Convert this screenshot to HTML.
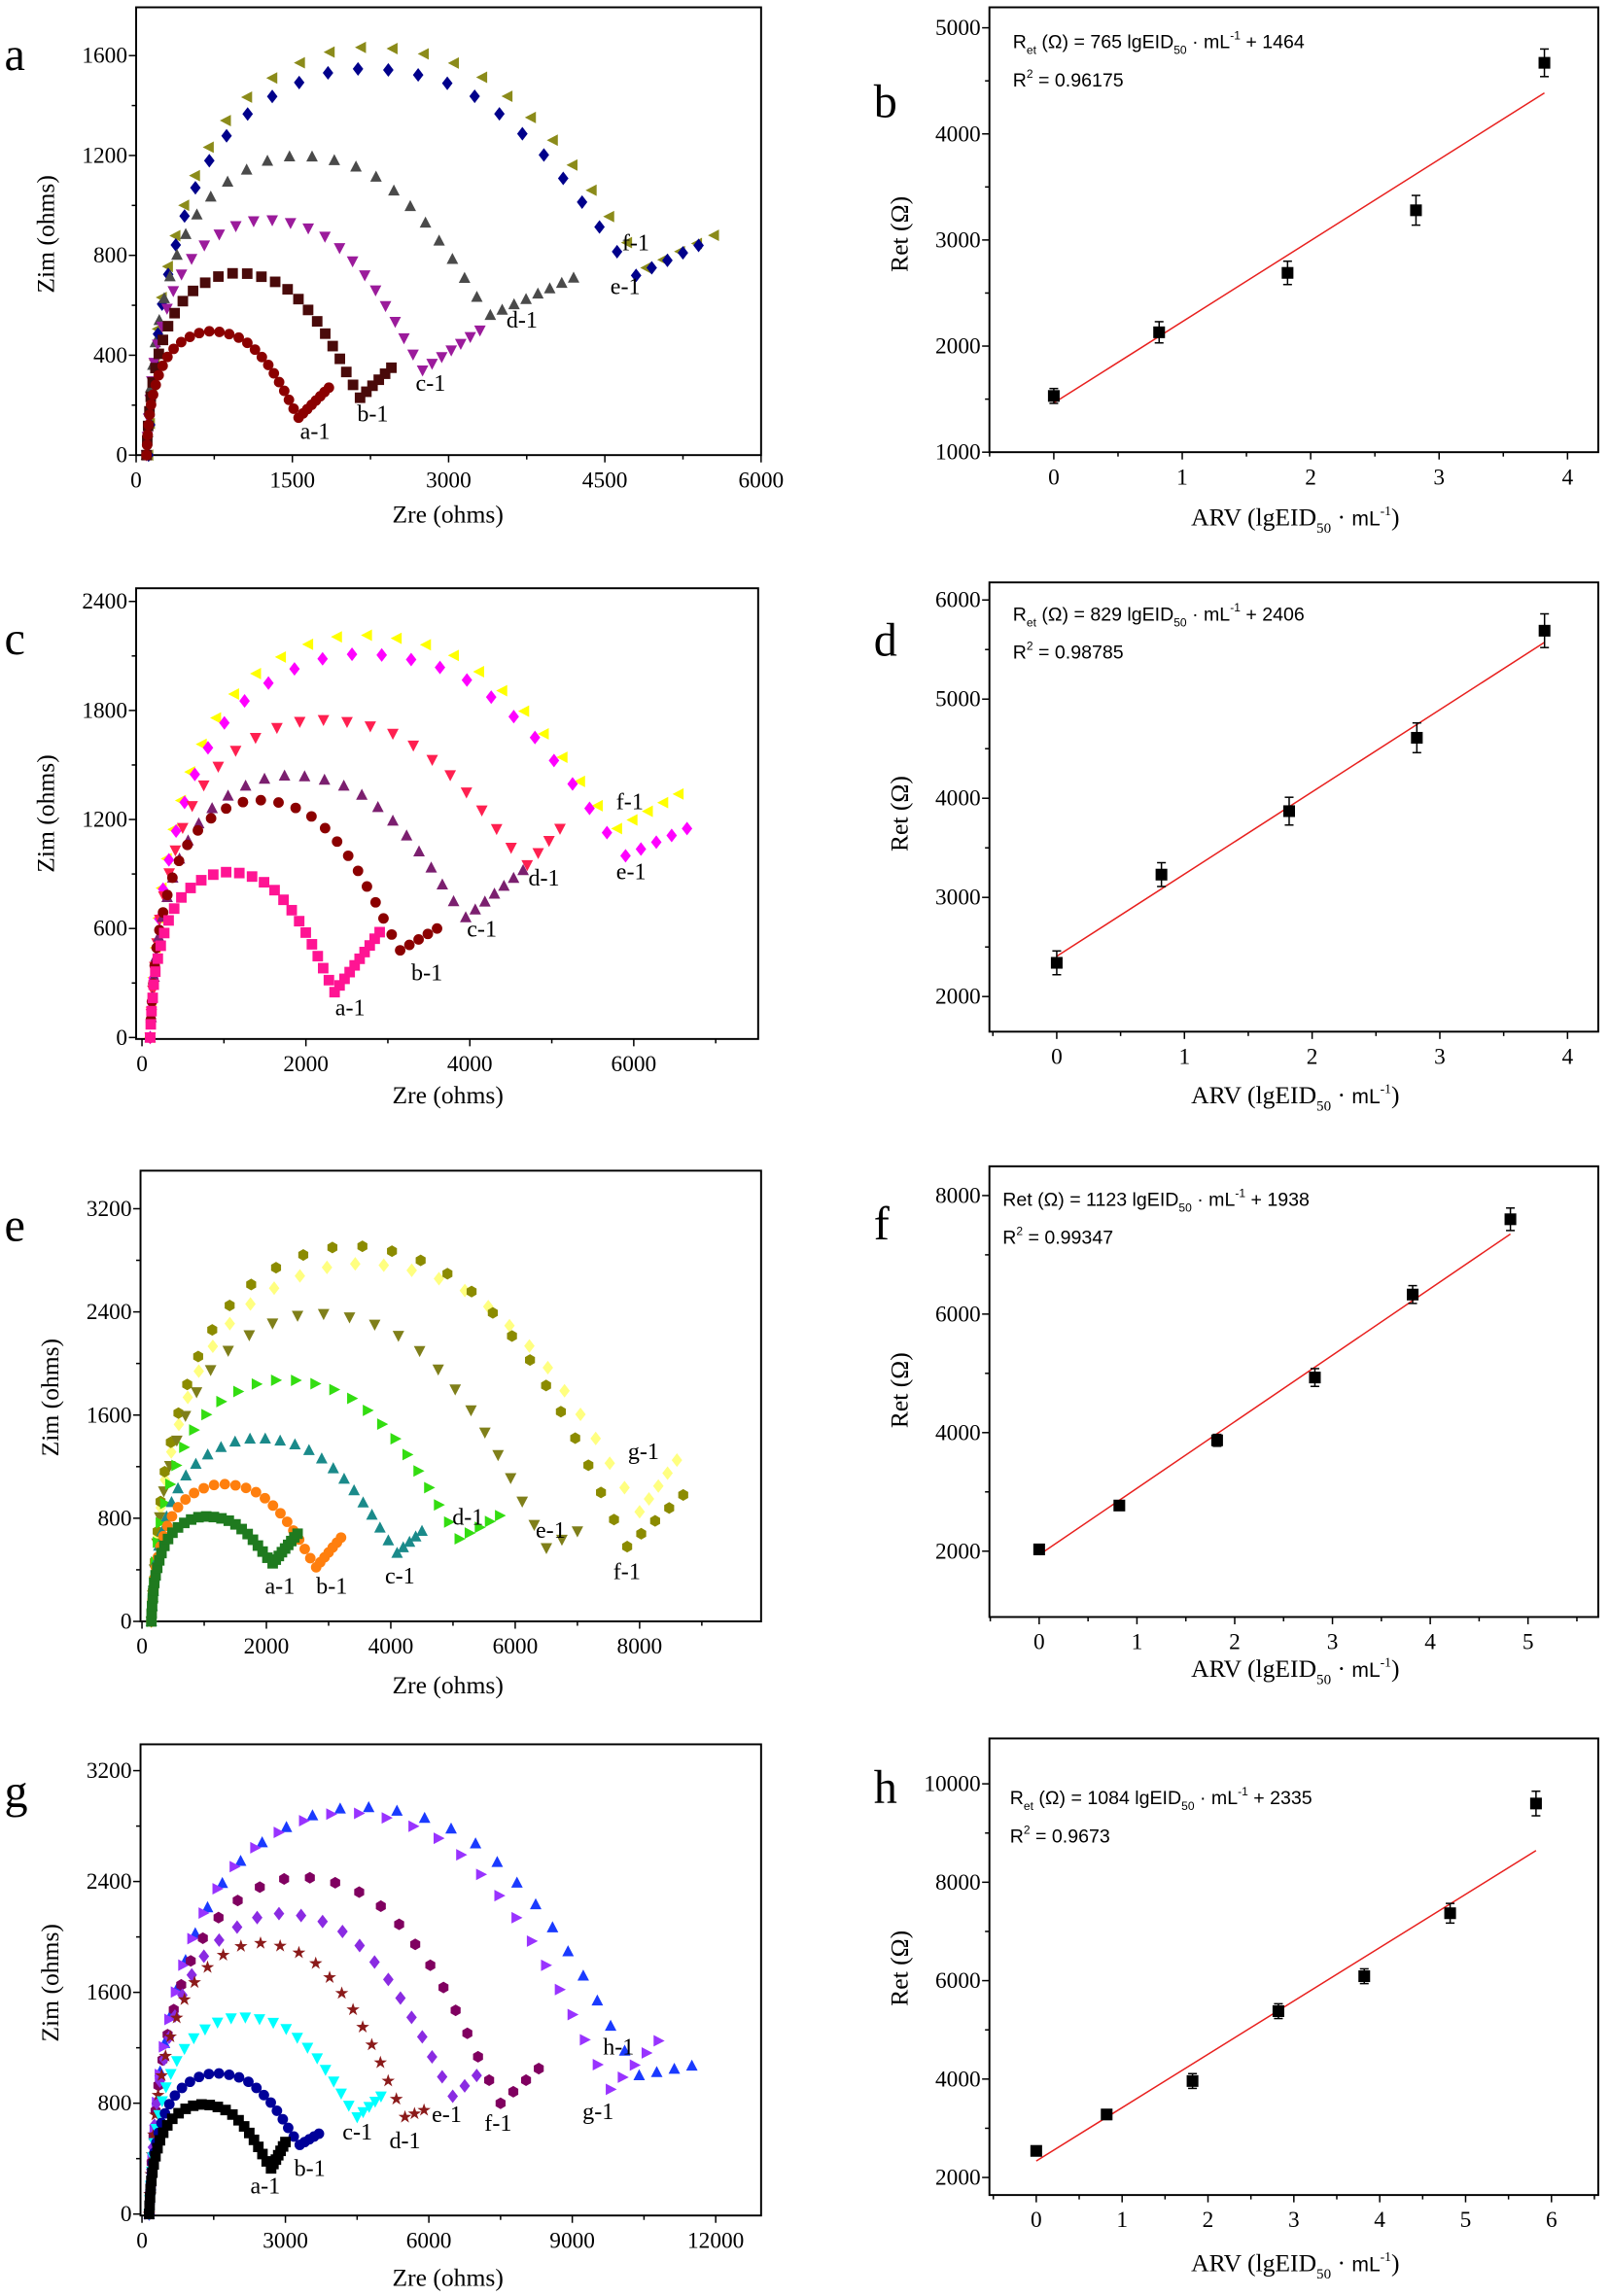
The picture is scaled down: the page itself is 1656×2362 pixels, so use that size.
<!DOCTYPE html>
<html><head><meta charset="utf-8"><style>
html,body{margin:0;padding:0;background:#fff;}
svg{display:block;}
.t{font-family:"Liberation Serif",serif;fill:#000;}
.s{font-family:"Liberation Sans",sans-serif;fill:#000;}
</style></head><body>
<svg id="c" width="1656" height="2362" viewBox="0 0 1100 1569" xmlns="http://www.w3.org/2000/svg"></svg>
<script>
const svg=document.getElementById('c');let out='';
function P(def){return{X:v=>def.x0+v*def.sx-(def.xv0||0)*def.sx,Y:v=>def.y0-(v-(def.yv0||0))*def.sy};}
function marker(m,x,y,c){const r=3.6;x=+x;y=+y;switch(m){
case'o':return`<circle cx="${x}" cy="${y}" r="${r}" fill="${c}"/>`;
case's':return`<rect x="${x-r}" y="${y-r}" width="${2*r}" height="${2*r}" fill="${c}"/>`;
case'^':return`<polygon points="${x},${y-r*1.2} ${x-r*1.1},${y+r*0.9} ${x+r*1.1},${y+r*0.9}" fill="${c}"/>`;
case'v':return`<polygon points="${x},${y+r*1.2} ${x-r*1.1},${y-r*0.9} ${x+r*1.1},${y-r*0.9}" fill="${c}"/>`;
case'<':return`<polygon points="${x-r*1.2},${y} ${x+r*0.9},${y-r*1.1} ${x+r*0.9},${y+r*1.1}" fill="${c}"/>`;
case'>':return`<polygon points="${x+r*1.2},${y} ${x-r*0.9},${y-r*1.1} ${x-r*0.9},${y+r*1.1}" fill="${c}"/>`;
case'd':return`<polygon points="${x},${y-r*1.3} ${x+r},${y} ${x},${y+r*1.3} ${x-r},${y}" fill="${c}"/>`;
case'h':{let p=[];for(let i=0;i<6;i++){const a=Math.PI/6+i*Math.PI/3;p.push((x+r*1.1*Math.cos(a)).toFixed(1)+','+(y+r*1.1*Math.sin(a)).toFixed(1));}return`<polygon points="${p.join(' ')}" fill="${c}"/>`;}
case'*':{let p=[];for(let i=0;i<10;i++){const a=-Math.PI/2+i*Math.PI/5,rr=i%2?r*0.5:r*1.3;p.push((x+rr*Math.cos(a)).toFixed(1)+','+(y+rr*Math.sin(a)).toFixed(1));}return`<polygon points="${p.join(' ')}" fill="${c}"/>`;}
}}
function axes(def){const [l,t,r,b]=def.box;const p=P(def);
out+=`<rect x="${l}" y="${t}" width="${r-l}" height="${b-t}" fill="none" stroke="#000" stroke-width="1.3"/>`;
for(let v=def.xmin;v<=def.xmax+1e-9;v+=def.xminor){const x=p.X(v);if(x<l-0.5||x>r+0.5)continue;const maj=Math.abs(v/def.xstep-Math.round(v/def.xstep))<1e-6;
out+=`<line x1="${x}" y1="${b}" x2="${x}" y2="${b+(maj?5:3)}" stroke="#000" stroke-width="1"/>`;
if(maj)out+=`<text class="t" x="${x}" y="${b+22}" font-size="15.5" text-anchor="middle">${+v.toFixed(3)}</text>`;}
for(let v=def.ymin;v<=def.ymax+1e-9;v+=def.yminor){const y=p.Y(v);if(y<t-0.5||y>b+0.5)continue;const maj=Math.abs(v/def.ystep-Math.round(v/def.ystep))<1e-6;
out+=`<line x1="${l}" y1="${y}" x2="${l-(maj?5:3)}" y2="${y}" stroke="#000" stroke-width="1"/>`;
if(maj)out+=`<text class="t" x="${l-6}" y="${y+5}" font-size="15.5" text-anchor="end">${v}</text>`;}
}
const G=[[0,0],[0.01,0.2],[0.035,0.45],[0.1,0.72],[0.2,0.9],[0.35,1],[0.5,0.99],[0.65,0.88],[0.78,0.66],[0.88,0.4],[0.95,0.17],[1,0]];
function cr(pts,n){const res=[];for(let i=0;i<pts.length-1;i++){const p0=pts[Math.max(i-1,0)],p1=pts[i],p2=pts[i+1],p3=pts[Math.min(i+2,pts.length-1)];
for(let k=0;k<n;k++){const t=k/n,t2=t*t,t3=t2*t;const f=(a,b,c,d)=>0.5*((2*b)+(-a+c)*t+(2*a-5*b+4*c-d)*t2+(-a+3*b-3*c+d)*t3);res.push([f(p0[0],p1[0],p2[0],p3[0]),f(p0[1],p1[1],p2[1],p3[1])]);}}
res.push(pts[pts.length-1]);return res;}
const GD=cr(G,30);
function nyq(def,series){const p=P(def);
for(const s of series){const [Rs,xm,ym,apex,xe,ye,c,m]=s;const N=s[8]||28;
const arc=GD.map(([u,g])=>[p.X(Rs+u*(xm-Rs)),p.Y(g*(apex-ym*0.02)+ym*Math.pow(u,4))]);
let L=[0];for(let i=1;i<arc.length;i++)L.push(L[i-1]+Math.hypot(arc[i][0]-arc[i-1][0],arc[i][1]-arc[i-1][1]));
const tot=L[L.length-1],step=tot/N;let j=0;
for(let i=0;i<=N;i++){const d=i*step;while(j<L.length-2&&L[j+1]<d)j++;const f=(d-L[j])/((L[j+1]-L[j])||1);const x=arc[j][0]+f*(arc[j+1][0]-arc[j][0]),y=arc[j][1]+f*(arc[j+1][1]-arc[j][1]);out+=marker(m,x.toFixed(1),y.toFixed(1),c);}
const x1=p.X(xm),y1=p.Y(ym),x2=p.X(xe),y2=p.Y(ye);const tl=Math.hypot(x2-x1,y2-y1);const M=Math.max(2,Math.round(tl/(step*0.6)));
for(let i=1;i<=M;i++){const f=i/M;out+=marker(m,(x1+(x2-x1)*f).toFixed(1),(y1+(y2-y1)*f).toFixed(1),c);}}}
function lin(def,pts,k,b0,err){const p=P(def);const x1=pts[0][0],x2=pts[pts.length-1][0];
out+=`<line x1="${p.X(x1)}" y1="${p.Y(k*x1+b0)}" x2="${p.X(x2)}" y2="${p.Y(k*x2+b0)}" stroke="#e8201e" stroke-width="1"/>`;
pts.forEach((q,i)=>{const x=p.X(q[0]),y=p.Y(q[1]),e=(q[2]||err)*def.sy;
out+=`<line x1="${x}" y1="${y-e}" x2="${x}" y2="${y+e}" stroke="#000" stroke-width="1"/><line x1="${x-3}" y1="${y-e}" x2="${x+3}" y2="${y-e}" stroke="#000"/><line x1="${x-3}" y1="${y+e}" x2="${x+3}" y2="${y+e}" stroke="#000"/><rect x="${x-4}" y="${y-4}" width="8" height="8" fill="#000"/>`;});}
function txt(x,y,s,sz,cls,extra){out+=`<text class="${cls||'t'}" x="${x}" y="${y}" font-size="${sz}" ${extra||''}>${s}</text>`;}
function ylab(x,y,s){out+=`<text class="t" x="${x}" y="${y}" font-size="17" text-anchor="middle" transform="rotate(-90 ${x} ${y})">${s}</text>`;}
const arv=`ARV (lgEID<tspan font-size="10" dy="5">50</tspan><tspan dy="-5"> · </tspan><tspan class="s" font-size="14">mL</tspan><tspan font-size="9" dy="-7">-1</tspan><tspan dy="7">)</tspan>`;
function eq(x,y,k,b,r2,sub){txt(x,y,(sub?`R<tspan font-size="8" dy="4">et</tspan><tspan dy="-4">`:'Ret<tspan>')+` (Ω) = ${k} lgEID</tspan><tspan font-size="8" dy="4">50</tspan><tspan dy="-4"> · mL</tspan><tspan font-size="8" dy="-6">-1</tspan><tspan dy="6"> + ${b}</tspan>`,13,'s');
txt(x,y+26,`R<tspan font-size="8" dy="-6">2</tspan><tspan dy="6"> = ${r2}</tspan>`,13,'s');}

const A={box:[93,5,520,311],x0:93,sx:427/6000,y0:311,sy:273/1600,xmin:0,xmax:6000,xstep:1500,xminor:750,ymin:0,ymax:1800,ystep:400,yminor:200};
axes(A);
nyq(A,[[120,4900,750,1610,5550,880,'#8b8b1a','<'],[120,4800,720,1525,5400,840,'#00008b','d'],[100,3400,560,1180,4200,710,'#4a4a4a','^'],[100,2750,340,930,3300,500,'#9b1b9b','v'],[100,2150,230,720,2450,350,'#4a0a0a','s'],[100,1560,150,490,1850,270,'#8b0000','o']]);
[['a-1',205,300],['b-1',244,288],['c-1',284,267],['d-1',346,224],['e-1',417,201],['f-1',425,171]].forEach(l=>txt(l[1],l[2],l[0],16));
txt(3,48,'a',32);txt(306,357,'Zre (ohms)',17,'t','text-anchor="middle"');ylab(37,160,'Zim (ohms)');

const B={box:[676,5,1092,309],x0:720,sx:87.75,y0:309,yv0:1000,sy:0.0725,xmin:-0.5,xmax:4.5,xstep:1,xminor:0.5,ymin:1000,ymax:5200,ystep:1000,yminor:500};
axes(B);lin(B,[[0,1530,70],[0.82,2130,100],[1.82,2690,110],[2.82,3280,140],[3.82,4670,130]],765,1464);
eq(692,33,765,1464,'0.96175',true);txt(597,80,'b',32);txt(885,359,arv,17,'t','text-anchor="middle"');ylab(620,160,'Ret (Ω)');

const C={box:[93,402,518,710],x0:97,sx:0.056,y0:709,sy:298/2400,xmin:0,xmax:7000,xstep:2000,xminor:1000,ymin:0,ymax:2400,ystep:600,yminor:300};
axes(C);
nyq(C,[[100,5800,1150,2180,6550,1340,'#ffff00','<'],[100,5900,1000,2080,6650,1150,'#ff00ff','d'],[100,4700,950,1720,5100,1150,'#ff2050','v'],[100,3950,660,1420,4650,920,'#7b1f6f','^'],[100,3150,480,1290,3600,600,'#8b0000','o'],[100,2350,250,900,2900,580,'#ff1493','s']]);
[['a-1',229,694],['b-1',281,670],['c-1',319,640],['d-1',361,605],['e-1',421,601],['f-1',421,553]].forEach(l=>txt(l[1],l[2],l[0],16));
txt(3,447,'c',32);txt(306,754,'Zre (ohms)',17,'t','text-anchor="middle"');ylab(37,556,'Zim (ohms)');

const D={box:[676,398,1092,705],x0:722,sx:87.25,y0:681,yv0:2000,sy:0.06775,xmin:-0.5,xmax:4.5,xstep:1,xminor:0.5,ymin:2000,ymax:6300,ystep:1000,yminor:500};
axes(D);lin(D,[[0,2340,120],[0.82,3230,120],[1.82,3870,140],[2.82,4610,150],[3.82,5690,170]],829,2406);
eq(692,424,829,2406,'0.98785',true);txt(597,448,'d',32);txt(885,754,arv,17,'t','text-anchor="middle"');ylab(620,556,'Ret (Ω)');

const E={box:[96,800,520,1108],x0:97,sx:0.0425,y0:1108,sy:282/3200,xmin:0,xmax:10000,xstep:2000,xminor:1000,ymin:0,ymax:3400,ystep:800,yminor:400};
axes(E);
nyq(E,[[150,8000,850,2740,8600,1250,'#ffff80','d',30],[150,7800,580,2880,8700,980,'#8b8b00','h',30],[150,6500,570,2360,7000,700,'#7f7f1a','v'],[150,5100,640,1850,5750,820,'#33dd11','>'],[150,4100,530,1400,4500,700,'#1a8a8a','^'],[150,2800,420,1050,3200,650,'#ff7f0e','o'],[150,2100,450,800,2500,680,'#1f7a1f','s']]);
[['a-1',181,1089],['b-1',216,1089],['c-1',263,1082],['d-1',309,1042],['e-1',366,1051],['f-1',419,1079],['g-1',429,997]].forEach(l=>txt(l[1],l[2],l[0],16));
txt(3,848,'e',32);txt(306,1157,'Zre (ohms)',17,'t','text-anchor="middle"');ylab(40,955,'Zim (ohms)');

const F={box:[676,797,1092,1105],x0:710,sx:66.8,y0:1060,yv0:2000,sy:0.0405,xmin:-0.5,xmax:5.5,xstep:1,xminor:0.5,ymin:2000,ymax:8400,ystep:2000,yminor:1000};
axes(F);lin(F,[[0,2030,60],[0.82,2770,80],[1.82,3870,100],[2.82,4930,150],[3.82,6330,150],[4.82,7600,190]],1123,1938);
eq(685,824,1123,1938,'0.99347',false);txt(597,847,'f',32);txt(885,1146,arv,17,'t','text-anchor="middle"');ylab(620,950,'Ret (Ω)');

const Gp={box:[96,1192,520,1514],x0:97,sx:392/12000,y0:1513,sy:303/3200,xmin:0,xmax:12000,xstep:3000,xminor:1500,ymin:0,ymax:3300,ystep:800,yminor:400};
axes(Gp);
nyq(Gp,[[150,10400,1000,2900,11500,1070,'#1a3aff','^',32],[150,9800,900,2860,10800,1250,'#9933ff','>',32],[150,7500,800,2400,8300,1050,'#800060','h',28],[150,6500,850,2140,7000,1000,'#8a2be2','d'],[150,5500,700,1930,5900,750,'#8b1a1a','*'],[150,4500,700,1400,5000,850,'#00ffff','v'],[150,3300,500,1000,3700,580,'#000099','o'],[150,2700,330,780,3000,520,'#000000','s']]);
[['a-1',171,1499],['b-1',201,1487],['c-1',234,1462],['d-1',266,1468],['e-1',295,1450],['f-1',331,1456],['g-1',398,1448],['h-1',412,1404]].forEach(l=>txt(l[1],l[2],l[0],16));
txt(3,1235,'g',32);txt(306,1562,'Zre (ohms)',17,'t','text-anchor="middle"');ylab(40,1355,'Zim (ohms)');

const H={box:[676,1188,1092,1500],x0:708,sx:58.67,y0:1488,yv0:2000,sy:269/8000,xmin:-0.5,xmax:6.5,xstep:1,xminor:0.5,ymin:2000,ymax:10300,ystep:2000,yminor:1000};
axes(H);lin(H,[[0,2540,80],[0.82,3280,100],[1.82,3960,150],[2.82,5380,150],[3.82,6090,150],[4.82,7370,200],[5.82,9600,250]],1084,2335);
eq(690,1233,1084,2335,'0.9673',true);txt(597,1232,'h',32);txt(885,1552,arv,17,'t','text-anchor="middle"');ylab(620,1345,'Ret (Ω)');

svg.innerHTML=out;
</script>
</body></html>
